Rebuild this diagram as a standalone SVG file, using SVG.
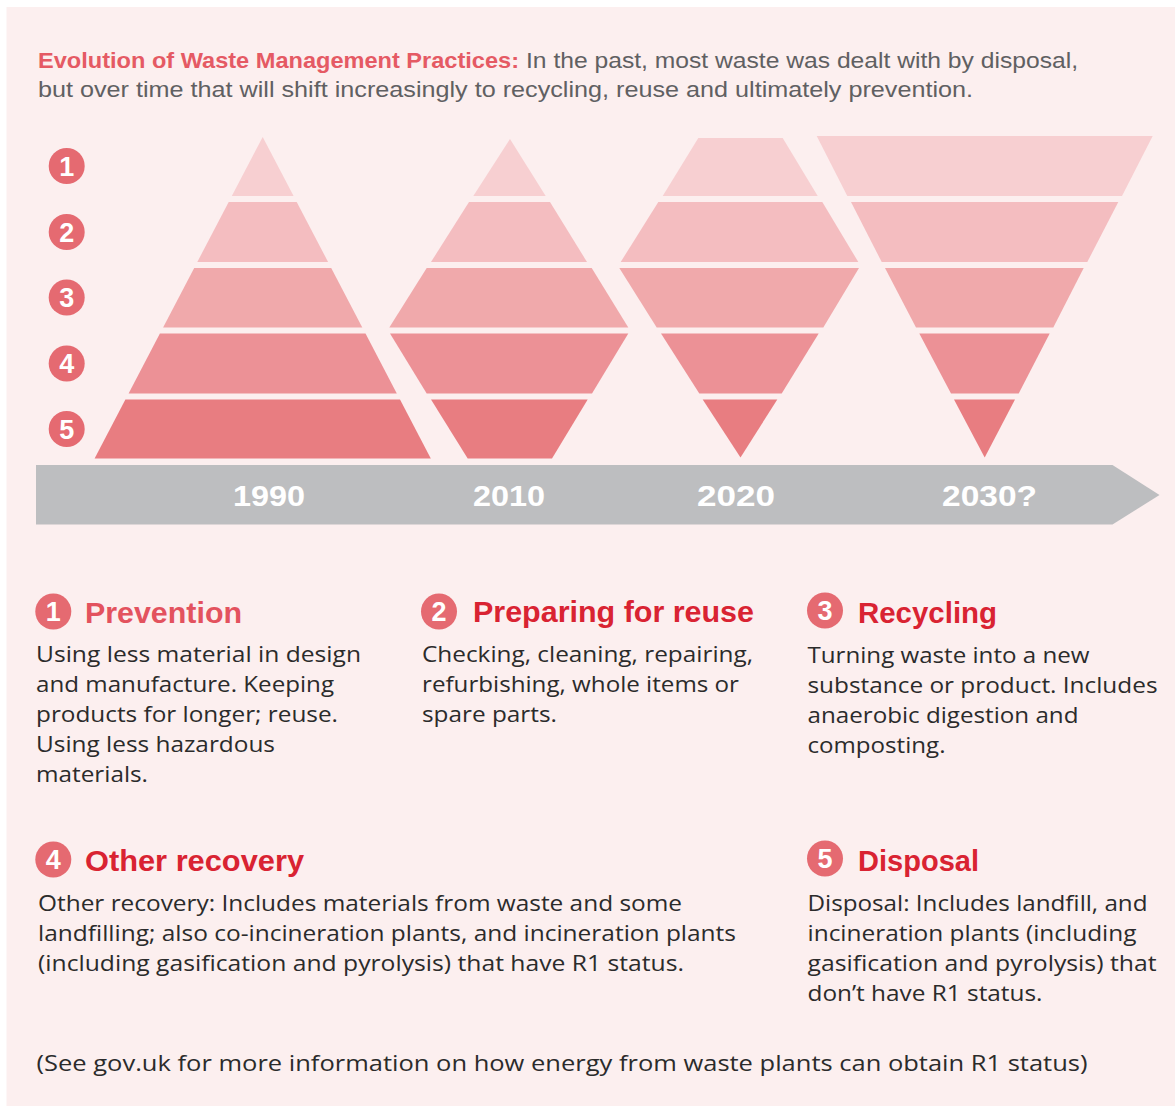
<svg xmlns="http://www.w3.org/2000/svg" width="1175" height="1106" viewBox="0 0 1175 1106">
<style>
.bg{fill:#ffffff}
.panel{fill:#fcefef}
.r1{fill:#f7cfd1}.r2{fill:#f4bdc0}.r3{fill:#f0a9ab}.r4{fill:#ec9196}.r5{fill:#e87d81}
.dot{fill:#e56a71}
.dnum{font-family:"Liberation Sans",Arial,sans-serif;font-weight:bold;font-size:27px;fill:#ffffff;text-anchor:middle}
.title-red{font-family:"Liberation Sans",Arial,sans-serif;font-weight:bold;font-size:22px;fill:#e55a64}
.title-grey{font-family:"Liberation Sans",Arial,sans-serif;font-size:22px;fill:#606062}
.year{font-family:"Liberation Sans",Arial,sans-serif;font-weight:bold;font-size:29px;fill:#ffffff}
.head{font-family:"Liberation Sans",Arial,sans-serif;font-weight:bold;font-size:29px;fill:#d92332}
.body{font-family:"Open Sans","Liberation Sans",Arial,sans-serif;font-size:21.5px;fill:#2b2b2b}
.bar{fill:#bdbec0}
</style>
<rect class="bg" x="0" y="0" width="1175" height="1106"/>
<rect class="panel" x="6.5" y="7" width="1168.5" height="1099"/>

<g id="title">
<text class="title-red" x="38" y="68" textLength="481" lengthAdjust="spacingAndGlyphs">Evolution of Waste Management Practices:</text>
<text class="title-grey" x="526" y="68" textLength="552" lengthAdjust="spacingAndGlyphs">In the past, most waste was dealt with by disposal,</text>
<text class="title-grey" x="38" y="97" textLength="935" lengthAdjust="spacingAndGlyphs">but over time that will shift increasingly to recycling, reuse and ultimately prevention.</text>
</g>

<g id="level-markers">
<circle class="dot" cx="66.7" cy="166" r="18"/><text class="dnum" x="66.7" y="175.5">1</text>
<circle class="dot" cx="66.7" cy="232" r="18"/><text class="dnum" x="66.7" y="241.5">2</text>
<circle class="dot" cx="66.7" cy="297.5" r="18"/><text class="dnum" x="66.7" y="307">3</text>
<circle class="dot" cx="66.7" cy="363.5" r="18"/><text class="dnum" x="66.7" y="373">4</text>
<circle class="dot" cx="66.7" cy="429" r="18"/><text class="dnum" x="66.7" y="438.5">5</text>
</g>

<g id="pyramid-1990">
<polygon class="r1" points="262.7,137 293.6,196 231.8,196"/>
<polygon class="r2" points="228.7,202 296.7,202 328.1,262 197.3,262"/>
<polygon class="r3" points="194.2,268 331.2,268 362.3,327.5 163.1,327.5"/>
<polygon class="r4" points="159.9,333.5 365.5,333.5 396.8,393.5 128.6,393.5"/>
<polygon class="r5" points="125.4,399.5 400,399.5 430.8,458.5 94.6,458.5"/>
</g>

<g id="pyramid-2010">
<polygon class="r1" points="510,139 545.7,196 473.3,196"/>
<polygon class="r2" points="469,202 550,202 587,262 431,262"/>
<polygon class="r3" points="426.7,268 591.7,268 628.3,327.5 389.3,327.5"/>
<polygon class="r4" points="390,333.5 628.3,333.5 592,393.5 426.7,393.5"/>
<polygon class="r5" points="431,399.5 587.7,399.5 552,458.5 467.7,458.5"/>
</g>

<g id="pyramid-2020">
<polygon class="r1" points="698.3,138 782.7,138 817.7,196 662.7,196"/>
<polygon class="r2" points="658.3,202 822.3,202 858.3,262 620.7,262"/>
<polygon class="r3" points="619.3,268 859,268 823.3,327.5 656.7,327.5"/>
<polygon class="r4" points="661,333.5 818.7,333.5 781.7,393.5 699.3,393.5"/>
<polygon class="r5" points="702.7,399.5 777.3,399.5 740.5,457.5"/>
</g>

<g id="pyramid-2030">
<polygon class="r1" points="816.7,136 1152.7,136 1122,196 847.3,196"/>
<polygon class="r2" points="851,202 1118.3,202 1087.3,262 881.7,262"/>
<polygon class="r3" points="885,268 1083.7,268 1053.3,327.5 916,327.5"/>
<polygon class="r4" points="919.3,333.5 1049.7,333.5 1018.7,393.5 951,393.5"/>
<polygon class="r5" points="954,399.5 1015,399.5 984.7,457.5"/>
</g>

<g id="timeline">
<polygon class="bar" points="36,465 1112.5,465 1159.5,495 1112.5,524.5 36,524.5"/>
<text class="year" x="233" y="506" textLength="72" lengthAdjust="spacingAndGlyphs">1990</text>
<text class="year" x="473" y="506" textLength="72" lengthAdjust="spacingAndGlyphs">2010</text>
<text class="year" x="697" y="506" textLength="78" lengthAdjust="spacingAndGlyphs">2020</text>
<text class="year" x="942" y="506" textLength="95" lengthAdjust="spacingAndGlyphs">2030?</text>
</g>

<g id="prevention">
<circle class="dot" cx="53.3" cy="611.5" r="18"/><text class="dnum" x="53.3" y="621">1</text>
<text class="head" x="85" y="622.5" textLength="157" lengthAdjust="spacingAndGlyphs" style="fill:#e3525e">Prevention</text>
<text class="body" x="36" y="661.5" textLength="325" lengthAdjust="spacingAndGlyphs">Using less material in design</text>
<text class="body" x="36" y="691.5" textLength="298" lengthAdjust="spacingAndGlyphs">and manufacture. Keeping</text>
<text class="body" x="36" y="721.5" textLength="302" lengthAdjust="spacingAndGlyphs">products for longer; reuse.</text>
<text class="body" x="36" y="751.5" textLength="239" lengthAdjust="spacingAndGlyphs">Using less hazardous</text>
<text class="body" x="36" y="781.5" textLength="112" lengthAdjust="spacingAndGlyphs">materials.</text>
</g>

<g id="preparing-for-reuse">
<circle class="dot" cx="439" cy="611.5" r="18"/><text class="dnum" x="439" y="621">2</text>
<text class="head" x="473" y="622" textLength="281" lengthAdjust="spacingAndGlyphs">Preparing for reuse</text>
<text class="body" x="422" y="661.5" textLength="331" lengthAdjust="spacingAndGlyphs">Checking, cleaning, repairing,</text>
<text class="body" x="422" y="691.5" textLength="317" lengthAdjust="spacingAndGlyphs">refurbishing, whole items or</text>
<text class="body" x="422" y="721.5" textLength="135" lengthAdjust="spacingAndGlyphs">spare parts.</text>
</g>

<g id="recycling">
<circle class="dot" cx="825" cy="610.5" r="18"/><text class="dnum" x="825" y="620">3</text>
<text class="head" x="858" y="622.5" textLength="139" lengthAdjust="spacingAndGlyphs">Recycling</text>
<text class="body" x="807.5" y="663" textLength="282" lengthAdjust="spacingAndGlyphs">Turning waste into a new</text>
<text class="body" x="807.5" y="693" textLength="350" lengthAdjust="spacingAndGlyphs">substance or product. Includes</text>
<text class="body" x="807.5" y="723" textLength="271" lengthAdjust="spacingAndGlyphs">anaerobic digestion and</text>
<text class="body" x="807.5" y="753" textLength="138" lengthAdjust="spacingAndGlyphs">composting.</text>
</g>

<g id="other-recovery">
<circle class="dot" cx="53.3" cy="859.5" r="18"/><text class="dnum" x="53.3" y="869">4</text>
<text class="head" x="85" y="870.5" textLength="219" lengthAdjust="spacingAndGlyphs">Other recovery</text>
<text class="body" x="38" y="910.5" textLength="644" lengthAdjust="spacingAndGlyphs">Other recovery: Includes materials from waste and some</text>
<text class="body" x="38" y="940.5" textLength="698" lengthAdjust="spacingAndGlyphs">landfilling; also co-incineration plants, and incineration plants</text>
<text class="body" x="38" y="970.5" textLength="646" lengthAdjust="spacingAndGlyphs">(including gasification and pyrolysis) that have R1 status.</text>
</g>

<g id="disposal">
<circle class="dot" cx="825" cy="858.5" r="18"/><text class="dnum" x="825" y="868">5</text>
<text class="head" x="858" y="870.5" textLength="121" lengthAdjust="spacingAndGlyphs">Disposal</text>
<text class="body" x="807.5" y="911" textLength="340" lengthAdjust="spacingAndGlyphs">Disposal: Includes landfill, and</text>
<text class="body" x="807.5" y="941" textLength="329" lengthAdjust="spacingAndGlyphs">incineration plants (including</text>
<text class="body" x="807.5" y="971" textLength="349" lengthAdjust="spacingAndGlyphs">gasification and pyrolysis) that</text>
<text class="body" x="807.5" y="1001" textLength="235" lengthAdjust="spacingAndGlyphs">don’t have R1 status.</text>
</g>

<g id="footnote">
<text class="body" x="36.5" y="1070.5" textLength="1051" lengthAdjust="spacingAndGlyphs">(See gov.uk for more information on how energy from waste plants can obtain R1 status)</text>
</g>
</svg>
